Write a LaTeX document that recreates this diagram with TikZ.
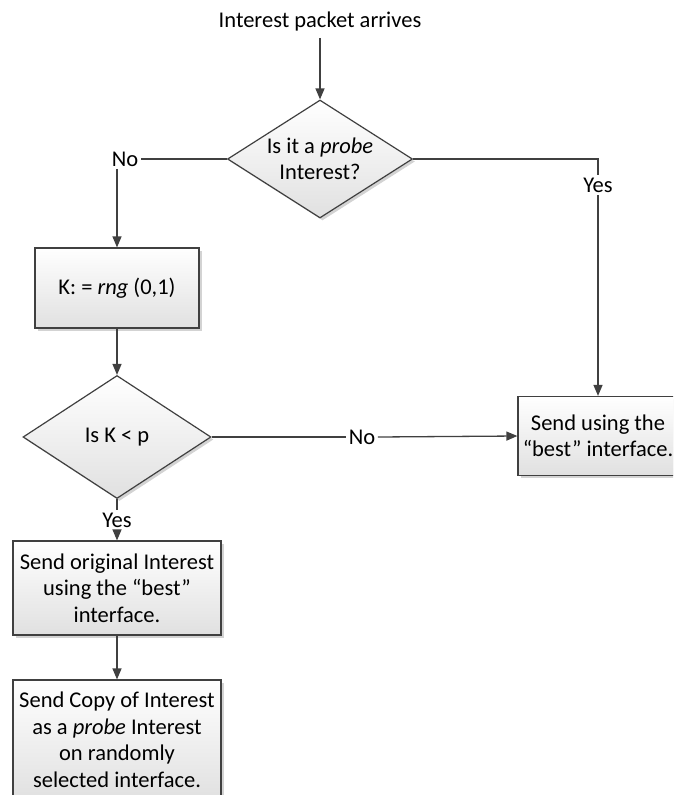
\documentclass[tikz,border=0pt]{standalone}
\usepackage{fontspec}
\setmainfont{Carlito}
\usetikzlibrary{shapes.geometric,arrows.meta,shadows}
\definecolor{ln}{HTML}{404040}
\begin{document}
\begin{tikzpicture}[x=1pt,y=-1pt,
  font=\fontsize{22.5}{26.5}\selectfont,
  line/.style={draw=ln,line width=1.3pt},
  arr/.style={line,-{Triangle[length=11pt,width=9pt]}},
  shade/.style={top color=white,bottom color=black!12,
    drop shadow={shadow xshift=2.5pt,shadow yshift=-2.5pt,opacity=0.35}},
  box/.style={draw=ln,line width=1.2pt,rectangle,shade,align=center,inner sep=0pt},
  dia/.style={draw=ln,line width=1.2pt,diamond,shade,inner sep=0pt},
  lbl/.style={fill=white,inner sep=2.5pt},
  txt/.style={align=center,inner sep=0pt}
]
\useasboundingbox (0,0) rectangle (673,795);
\clip (0,0) rectangle (673,795);

\node[txt] (start) at (320,22) {Interest packet arrives};

\node[dia,minimum width=185pt,minimum height=118pt] (d1) at (320,159) {};
\node[txt] (d1t) at (d1) {Is it a \textit{probe}\\Interest?};

\node[box,minimum width=164pt,minimum height=80pt] (kbox) at (117,288) {K: = \textit{rng} (0,1)};

\node[dia,minimum width=188pt,minimum height=123pt] (d2) at (117,437) {};
\node[txt] (d2t) at (d2) {Is K < p};

\node[box,minimum width=160pt,minimum height=79pt] (rb) at (598,436) {Send using the\\“best” interface.};

\node[box,minimum width=208pt,minimum height=94pt] (b3) at (117,588) {Send original Interest\\using the “best”\\interface.};

\node[box,minimum width=208pt,minimum height=120pt] (b4) at (117,740) {Send Copy of Interest\\as a \textit{probe} Interest\\on randomly\\selected interface.};

\node[lbl] (no1) at (125,159) {No};
\node[lbl] (yes1) at (598,185) {Yes};
\node[lbl] (no2) at (362,437) {No};
\node[lbl] (yes2) at (117,520) {Yes};

\draw[arr] (start.south) ++(0,-6pt) -- (d1.north);
\draw[line] (d1.west) -- (no1.east);
\draw[arr] (kbox.north |- no1.south) -- (kbox.north);
\draw[arr] (kbox.south) -- (d2.north);
\draw[line] (d1.east) -| (yes1.north);
\draw[arr] (yes1.south) -- (rb.north);
\draw[line] (d2.east) -- (no2.west);
\draw[arr] (no2.east) -- (rb.west);
\draw[line] (d2.south) -- (yes2.north);
\draw[arr] (yes2.south) -- (b3.north);
\draw[arr] (b3.south) -- (b4.north);
\end{tikzpicture}
\end{document}
